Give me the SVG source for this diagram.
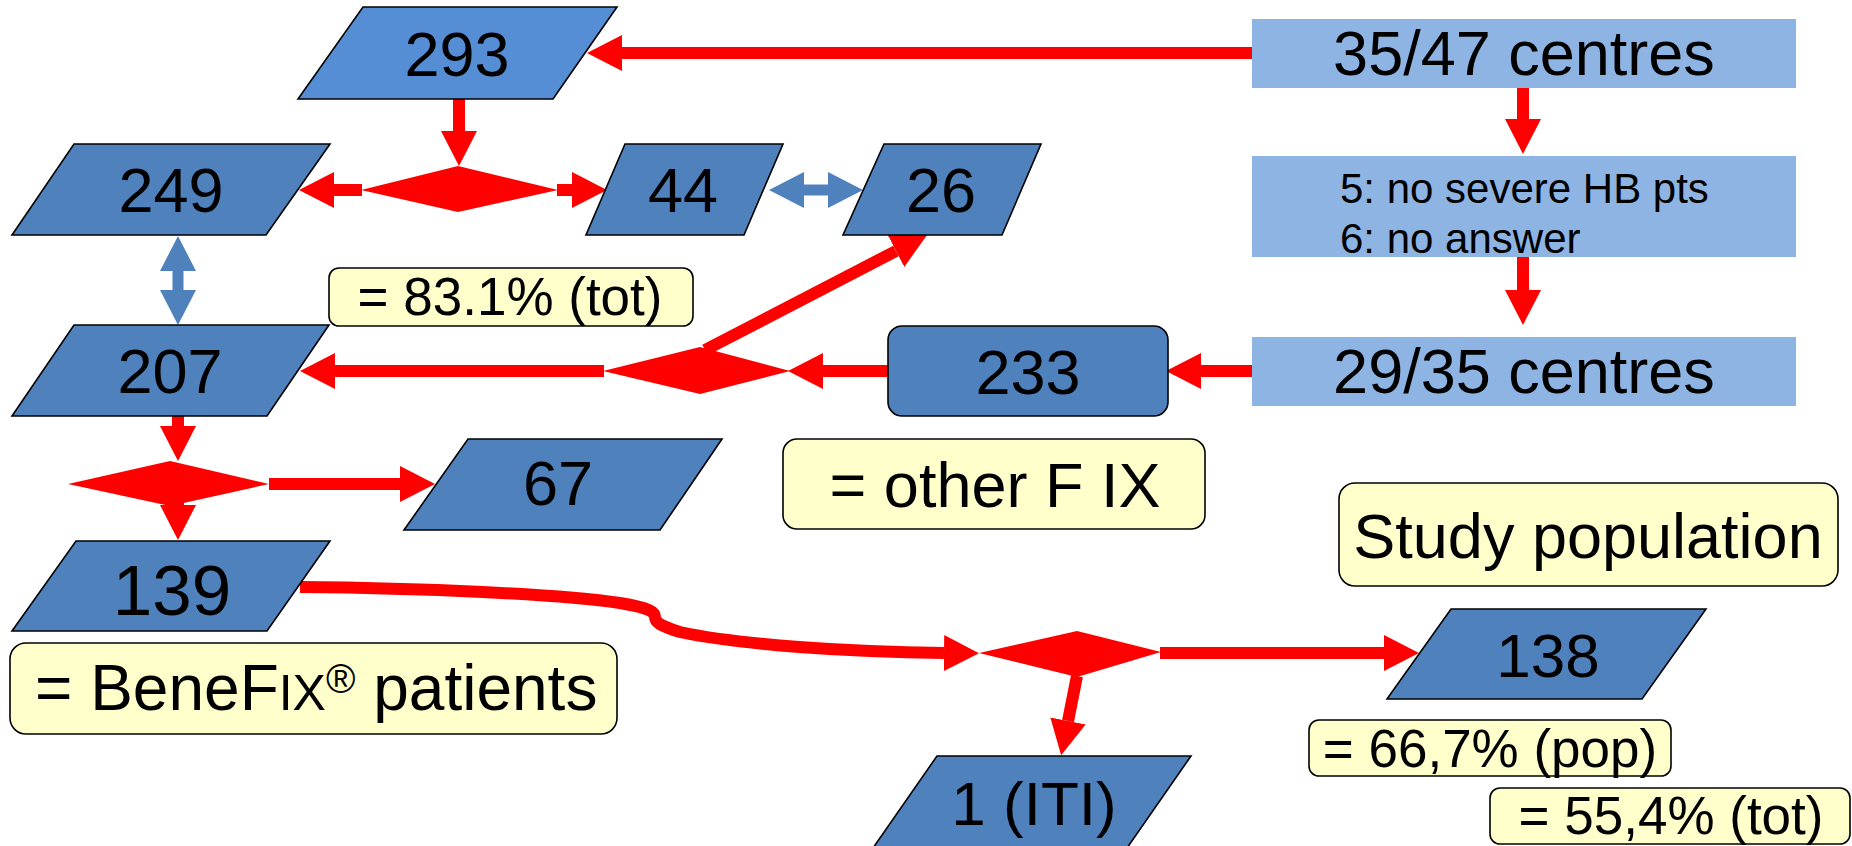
<svg xmlns="http://www.w3.org/2000/svg" width="1852" height="846" viewBox="0 0 1852 846">
<style>
.box{fill:#4F81BD;stroke:#000;stroke-width:1.6}
.top{fill:#558ED5;stroke:#000;stroke-width:1.6}
.lb{fill:#8EB4E3}
.note{fill:#FFFFCC;stroke:#000;stroke-width:1.6}
text{font-family:"Liberation Sans",Arial,sans-serif;fill:#000}
.big{font-size:63px;text-anchor:middle}
.nt{font-size:53px;text-anchor:middle}
.sm{font-size:42px}
.red{stroke:#FF0000;stroke-width:12;fill:none;marker-end:url(#ahr)}
.blue{stroke:#4F81BD;stroke-width:11;fill:none;marker-start:url(#ahb);marker-end:url(#ahb)}
.dia{fill:#FF0000}
</style>
<defs>
<marker id="ahr" viewBox="0 0 35 36" markerWidth="35" markerHeight="36" refX="0" refY="18" markerUnits="userSpaceOnUse" orient="auto">
<path d="M0,0 L35,18 L0,36 Z" fill="#FF0000"/>
</marker>
<marker id="ahb" viewBox="0 0 35 36" markerWidth="35" markerHeight="36" refX="0" refY="18" markerUnits="userSpaceOnUse" orient="auto-start-reverse">
<path d="M0,0 L35,18 L0,36 Z" fill="#4F81BD"/>
</marker>
</defs>

<g id="connectors">
<line class="red" x1="1253" y1="53" x2="622" y2="53"/>
<line class="red" x1="459" y1="99" x2="459" y2="131"/>
<line class="red" x1="362" y1="190" x2="334" y2="190"/>
<line class="red" x1="557" y1="190" x2="572" y2="190"/>
<line class="red" x1="1523" y1="88" x2="1523" y2="119"/>
<line class="red" x1="1523" y1="257" x2="1523" y2="290"/>
<line class="red" x1="1252" y1="371" x2="1201" y2="371"/>
<line class="red" x1="888" y1="371" x2="823" y2="371"/>
<line class="red" x1="604" y1="371" x2="335" y2="371"/>
<line class="red" x1="705" y1="350" x2="896" y2="251"/>
<line class="red" x1="178" y1="416" x2="178" y2="426"/>
<line class="red" x1="178" y1="495" x2="178" y2="505"/>
<line class="red" x1="269" y1="484" x2="400" y2="484"/>
<path class="red" d="M300,587 C420,588 560,594 620,603 C650,608 655,612 655,617 C655,622 660,626 680,632 C740,645 850,652 944,653"/>
<line class="red" x1="1160" y1="653" x2="1384" y2="653"/>
<line class="red" x1="1077" y1="676" x2="1068" y2="721"/>
<line class="blue" x1="178" y1="271" x2="178" y2="290"/>
<line class="blue" x1="804" y1="190" x2="828" y2="190"/>
<polygon class="dia" points="361,190 458,166 558,190 458,212"/>
<polygon class="dia" points="603,371 700,347 790,371 700,394"/>
<polygon class="dia" points="68,484 170,461 269,484 170,506"/>
<polygon class="dia" points="979,653 1077,631 1161,652 1077,677"/>
</g>

<g id="n293"><polygon class="top" points="363,7 617,7 553,99 298,99"/><text class="big" x="457" y="76">293</text></g>
<g id="n249"><polygon class="box" points="74,144 330,144 266,235 12,235"/><text class="big" x="171" y="212">249</text></g>
<g id="n44"><polygon class="box" points="625,144 783,144 744,235 586,235"/><text class="big" x="683" y="212">44</text></g>
<g id="n26"><polygon class="box" points="884,144 1041,144 1002,235 843,235"/><text class="big" x="941" y="212">26</text></g>
<g id="n207"><polygon class="box" points="74,325 329,325 267,416 12,416"/><text class="big" x="170" y="393">207</text></g>
<g id="n233"><rect class="box" x="888" y="326" width="280" height="90" rx="14"/><text class="big" x="1028" y="394">233</text></g>
<g id="n67"><polygon class="box" points="468,439 722,439 660,530 404,530"/><text class="big" x="558" y="505">67</text></g>
<g id="n139"><polygon class="box" points="76,541 330,541 267,631 12,631"/><text class="big" x="172" y="615" style="font-size:71px">139</text></g>
<g id="n138"><polygon class="box" points="1451,609 1706,609 1642,699 1387,699"/><text class="big" x="1548" y="677" style="font-size:62px">138</text></g>
<g id="nITI"><polygon class="box" points="937,756 1191,756 1127,848 873,848"/><text class="big" x="1034" y="825" style="font-size:62px">1 (ITI)</text></g>

<g id="c3547"><rect class="lb" x="1252" y="19" width="544" height="69"/><text class="big" x="1524" y="75">35/47 centres</text></g>
<g id="cexcl"><rect class="lb" x="1252" y="156" width="544" height="101"/><text class="sm" x="1340" y="203">5: no severe HB pts</text><text class="sm" x="1340" y="253">6: no answer</text></g>
<g id="c2935"><rect class="lb" x="1252" y="337" width="544" height="69"/><text class="big" x="1524" y="393">29/35 centres</text></g>

<g id="note831"><rect class="note" x="329" y="268" width="364" height="58" rx="10"/><text class="nt" x="510" y="315">= 83.1% (tot)</text></g>
<g id="noteother"><rect class="note" x="783" y="439" width="422" height="90" rx="14"/><text class="big" x="995" y="507">= other F IX</text></g>
<g id="notestudy"><rect class="note" x="1339" y="483" width="499" height="103" rx="16"/><text class="big" x="1588" y="558">Study population</text></g>
<g id="notebenefix"><rect class="note" x="10" y="643" width="607" height="91" rx="16"/><text x="35" y="710" style="font-size:64px">= BeneF<tspan style="font-size:50px">IX</tspan><tspan style="font-size:40px" dy="-17">®</tspan><tspan dy="17"> patients</tspan></text></g>
<g id="note667"><rect class="note" x="1309" y="720" width="362" height="56" rx="10"/><text class="nt" x="1490" y="767">= 66,7% (pop)</text></g>
<g id="note554"><rect class="note" x="1490" y="788" width="360" height="56" rx="10"/><text class="nt" x="1671" y="834">= 55,4% (tot)</text></g>
</svg>
